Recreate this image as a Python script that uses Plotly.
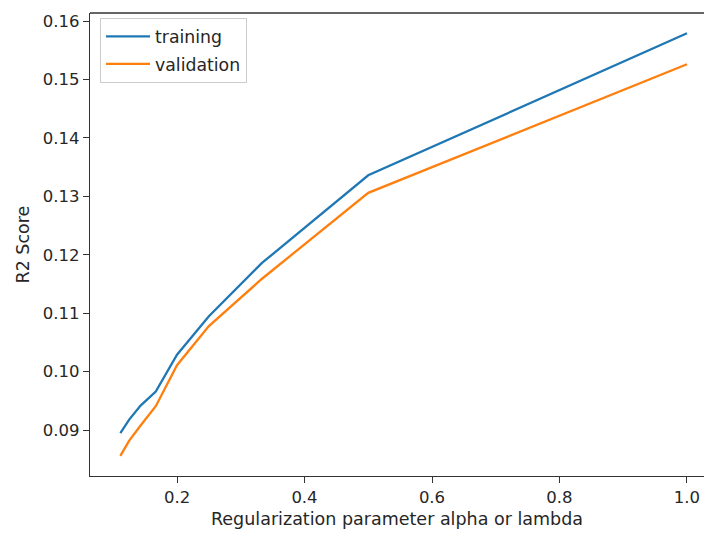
import plotly.graph_objects as go

alpha = [1/9, 1/8, 1/7, 1/6, 1/5, 1/4, 1/3, 1/2, 1.0]
training = [0.0895, 0.0918, 0.0942, 0.0966, 0.1029, 0.1095, 0.1186, 0.1336, 0.1579]
validation = [0.0856, 0.0882, 0.0908, 0.0941, 0.1011, 0.1078, 0.1159, 0.1306, 0.1526]

x_ticks = [0.2, 0.4, 0.6, 0.8, 1.0]
x_tick_labels = ["0.2", "0.4", "0.6", "0.8", "1.0"]
y_ticks = [0.09, 0.10, 0.11, 0.12, 0.13, 0.14, 0.15, 0.16]
y_tick_labels = ["0.09", "0.10", "0.11", "0.12", "0.13", "0.14", "0.15", "0.16"]

font = dict(family="DejaVu Sans", size=16.5, color="#262626")
big_font = dict(family="DejaVu Sans", size=17.5, color="#262626")

fig = go.Figure()
fig.add_trace(go.Scatter(x=alpha, y=training, mode="lines", name="training", legendgroup="a",
                         line=dict(color="#1f77b4", width=2.3)))
fig.add_trace(go.Scatter(x=alpha, y=validation, mode="lines", name="validation", legendgroup="b",
                         line=dict(color="#ff7f0e", width=2.3)))

axis_common = dict(showgrid=False, zeroline=False, showline=True, linecolor="#333333",
                   linewidth=1.3, ticks="outside", ticklen=6, tickwidth=1.3, tickcolor="#333333",
                   tickfont=font)

fig.update_layout(
    width=705, height=533,
    margin=dict(l=90, r=1, t=13, b=57),
    paper_bgcolor="white", plot_bgcolor="white",
    font=font,
    xaxis=dict(range=[0.0635, 1.0267], tickvals=x_ticks, ticktext=x_tick_labels,
               title=dict(text="Regularization parameter alpha or lambda", font=big_font, standoff=6),
               **axis_common),
    yaxis=dict(range=[0.08215, 0.16137], tickvals=y_ticks, ticktext=y_tick_labels,
               **axis_common),
    legend=dict(x=0.0163, y=0.99, xanchor="left", yanchor="top",
                bgcolor="rgba(255,255,255,0.8)", bordercolor="#cccccc", borderwidth=1,
                font=dict(family="DejaVu Sans", size=17.3, color="#262626"),
                tracegroupgap=2, itemwidth=44),
    annotations=[dict(text="R2 Score", xref="paper", yref="paper", x=-(90 - 22) / 614, y=0.5,
                      xanchor="center", yanchor="middle", textangle=-90, showarrow=False,
                      font=big_font)],
    shapes=[dict(type="line", xref="paper", yref="paper", x0=0, x1=1, y0=1, y1=1,
                 line=dict(color="#333333", width=1.3))],
)

fig.write_html("out.html")
